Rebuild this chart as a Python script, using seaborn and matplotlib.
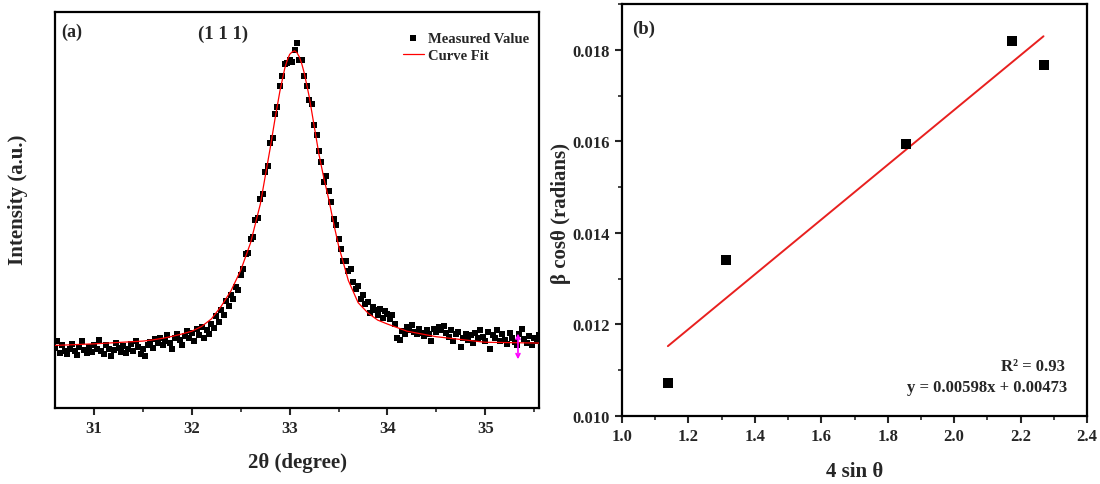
import numpy as np
import pandas as pd
import seaborn as sns
import matplotlib.pyplot as plt
from matplotlib.ticker import MultipleLocator

sns.set_style('ticks')
plt.rcParams['font.family'] = ['Liberation Serif', 'DejaVu Serif']
plt.rcParams['font.weight'] = 'bold'
plt.rcParams['axes.labelweight'] = 'bold'

# ---- panel (a): XRD (1 1 1) peak ----
two_theta = [
    30.600, 30.625, 30.650, 30.675, 30.700, 30.725, 30.750, 30.775, 30.800, 30.825,
    30.850, 30.875, 30.900, 30.925, 30.950, 30.975, 31.000, 31.025, 31.050, 31.075,
    31.100, 31.125, 31.150, 31.175, 31.200, 31.225, 31.250, 31.275, 31.300, 31.325,
    31.350, 31.375, 31.400, 31.425, 31.450, 31.475, 31.500, 31.525, 31.550, 31.575,
    31.600, 31.625, 31.650, 31.675, 31.700, 31.725, 31.750, 31.775, 31.800, 31.825,
    31.850, 31.875, 31.900, 31.925, 31.950, 31.975, 32.000, 32.025, 32.050, 32.075,
    32.100, 32.125, 32.150, 32.175, 32.200, 32.225, 32.250, 32.275, 32.300, 32.325,
    32.350, 32.375, 32.400, 32.425, 32.450, 32.475, 32.500, 32.525, 32.550, 32.575,
    32.600, 32.625, 32.650, 32.675, 32.700, 32.725, 32.750, 32.775, 32.800, 32.825,
    32.850, 32.875, 32.900, 32.925, 32.950, 32.975, 33.000, 33.025, 33.050, 33.075,
    33.100, 33.125, 33.150, 33.175, 33.200, 33.225, 33.250, 33.275, 33.300, 33.325,
    33.350, 33.375, 33.400, 33.425, 33.450, 33.475, 33.500, 33.525, 33.550, 33.575,
    33.600, 33.625, 33.650, 33.675, 33.700, 33.725, 33.750, 33.775, 33.800, 33.825,
    33.850, 33.875, 33.900, 33.925, 33.950, 33.975, 34.000, 34.025, 34.050, 34.075,
    34.100, 34.125, 34.150, 34.175, 34.200, 34.225, 34.250, 34.275, 34.300, 34.325,
    34.350, 34.375, 34.400, 34.425, 34.450, 34.475, 34.500, 34.525, 34.550, 34.575,
    34.600, 34.625, 34.650, 34.675, 34.700, 34.725, 34.750, 34.775, 34.800, 34.825,
    34.850, 34.875, 34.900, 34.925, 34.950, 34.975, 35.000, 35.025, 35.050, 35.075,
    35.100, 35.125, 35.150, 35.175, 35.200, 35.225, 35.250, 35.275, 35.300, 35.325,
    35.350, 35.375, 35.400, 35.425, 35.450, 35.475, 35.500, 35.525, 35.550,
]
intensity = [
    152, 168, 140, 158, 145, 137, 150, 162, 143, 135,
    155, 170, 147, 139, 153, 141, 160, 148, 172, 144,
    136, 158, 149, 131, 146, 165, 152, 141, 157, 138,
    150, 162, 144, 170, 155, 136, 148, 131, 160, 167,
    152, 175, 163, 178, 158, 170, 184, 165, 150, 176,
    188, 171, 160, 183, 195, 177, 190, 168, 199, 185,
    205, 178, 196, 188, 212, 203, 232, 218, 248, 236,
    270, 258, 285, 275, 306, 298, 335, 352, 388, 392,
    428, 432, 476, 480, 528, 540, 596, 612, 668, 683,
    742, 760, 812, 838, 868, 872, 880, 873, 905, 922,
    878, 880, 838, 812, 778, 768, 715, 690, 650, 622,
    570, 585, 548, 520, 478, 462, 428, 402, 370, 372,
    345, 352, 318, 300, 308, 276, 285, 262, 268, 240,
    255, 247, 236, 250, 228, 244, 238, 226, 234, 212,
    178, 172, 195, 188, 205, 197, 210, 192, 186, 200,
    190, 182, 196, 186, 170, 200, 192, 205, 198, 208,
    190, 180, 196, 168, 186, 192, 155, 178, 188, 172,
    184, 163, 190, 176, 196, 180, 170, 192, 150, 185,
    176, 198, 168, 186, 172, 162, 190, 178, 166, 158,
    186, 200, 175, 165, 182, 160, 178, 168, 185,
]
fit_theta = [30.60, 31.00, 31.50, 31.60, 31.70, 31.80, 31.90, 32.00, 32.10, 32.20,
             32.30, 32.40, 32.50, 32.60, 32.70, 32.75, 32.80, 32.85, 32.90, 32.95,
             32.975, 33.00, 33.025, 33.05, 33.075, 33.10, 33.125, 33.15, 33.20, 33.25,
             33.30, 33.35, 33.40, 33.45, 33.50, 33.60, 33.70, 33.80, 33.90, 34.00,
             34.20, 34.50, 35.00, 35.55]
fit_intensity = [158, 162, 169, 172, 176, 181, 187, 194, 206, 225,
                 257, 296, 348, 417, 515, 585, 655, 730, 800, 858,
                 878, 893, 899, 902, 897, 886, 868, 845, 786, 713,
                 640, 580, 527, 466, 410, 322, 266, 240, 222, 212,
                 194, 180, 166, 164]

# ---- panel (b): Williamson-Hall ----
four_sin_theta = [1.138, 1.312, 1.855, 2.175, 2.269]
beta_cos_theta = [0.01073, 0.01341, 0.01594, 0.01820, 0.01766]

meas = pd.DataFrame({'two_theta': two_theta, 'intensity': intensity})
fit = pd.DataFrame({'two_theta': fit_theta, 'intensity': fit_intensity})
wh = pd.DataFrame({'x': four_sin_theta, 'y': beta_cos_theta})

fig = plt.figure(figsize=(11, 4.85), dpi=100)
ax1 = fig.add_axes([0.05, 0.1567, 0.44, 0.8165])
ax2 = fig.add_axes([0.5655, 0.1402, 0.4227, 0.8495])

sns.scatterplot(data=meas, x='two_theta', y='intensity', ax=ax1, marker='s',
                s=24, color='black', linewidth=0, alpha=1,
                label='Measured Value', zorder=2)
sns.lineplot(data=fit, x='two_theta', y='intensity', ax=ax1, color='red',
             linewidth=0.9, label='Curve Fit', zorder=3)
ax1.annotate('', xy=(35.335, 116), xytext=(35.335, 195),
             arrowprops=dict(arrowstyle='<->', color='magenta', lw=1.2,
                             mutation_scale=7))

ax1.set_xlim(30.6, 35.55)
ax1.set_ylim(0, 1000)
ax1.set_yticks([])
ax1.xaxis.set_major_locator(MultipleLocator(1))
ax1.xaxis.set_minor_locator(MultipleLocator(0.5))
ax1.set_xlabel('2θ (degree)', fontsize=15)
ax1.set_ylabel('Intensity (a.u.)', fontsize=15)
ax1.xaxis.set_label_coords(0.5, -0.11)
ax1.yaxis.set_label_coords(-0.056, 0.528)
ax1.text(0.012, 0.95, '(a)', transform=ax1.transAxes, fontsize=13,
         va='center', ha='left')
ax1.text(0.295, 0.945, '(1 1 1)', transform=ax1.transAxes, fontsize=13.5,
         va='center', ha='left')
ax1.legend(loc='upper left', bbox_to_anchor=(0.697, 0.975), frameon=False,
           fontsize=10.5, handlelength=1.5, handletextpad=0.25,
           labelspacing=0.25, borderpad=0.2, markerscale=0.8)

sns.regplot(data=wh, x='x', y='y', ax=ax2, ci=None, marker='s',
            scatter_kws=dict(s=46, color='black', linewidths=0, alpha=1,
                             zorder=3),
            line_kws=dict(color='#e8201f', linewidth=1.4))
ax2.set_xlim(1.0, 2.4)
ax2.set_ylim(0.010, 0.019)
ax2.xaxis.set_major_locator(MultipleLocator(0.2))
ax2.xaxis.set_minor_locator(MultipleLocator(0.1))
ax2.yaxis.set_major_locator(MultipleLocator(0.002))
ax2.yaxis.set_minor_locator(MultipleLocator(0.001))
ax2.xaxis.set_major_formatter(plt.FuncFormatter(lambda v, p: f'{v:.1f}'))
ax2.yaxis.set_major_formatter(plt.FuncFormatter(lambda v, p: f'{v:.3f}'))
ax2.set_xlabel('4 sin θ', fontsize=15)
ax2.set_ylabel('β cosθ (radians)', fontsize=15)
ax2.xaxis.set_label_coords(0.5, -0.11)
ax2.yaxis.set_label_coords(-0.11, 0.495)
ax2.text(0.0215, 0.94, '(b)', transform=ax2.transAxes, fontsize=13.5,
         va='center', ha='left')
ax2.text(0.953, 0.121, 'R² = 0.93', transform=ax2.transAxes, fontsize=12,
         va='center', ha='right')
ax2.text(0.957, 0.070, 'y = 0.00598x + 0.00473', transform=ax2.transAxes,
         fontsize=12, va='center', ha='right')

for ax in (ax1, ax2):
    for sp in ax.spines.values():
        sp.set_linewidth(1.6)
        sp.set_color('black')
    ax.tick_params(which='major', direction='out', length=5, width=1.5,
                   labelsize=12, top=False, right=False)
    ax.tick_params(which='minor', direction='out', length=3, width=1.2,
                   top=False, right=False)
    for lab in ax.get_xticklabels() + ax.get_yticklabels():
        lab.set_fontweight('bold')
ax1.tick_params(axis='y', which='both', left=False)

fig.savefig('out.png', dpi=100)
